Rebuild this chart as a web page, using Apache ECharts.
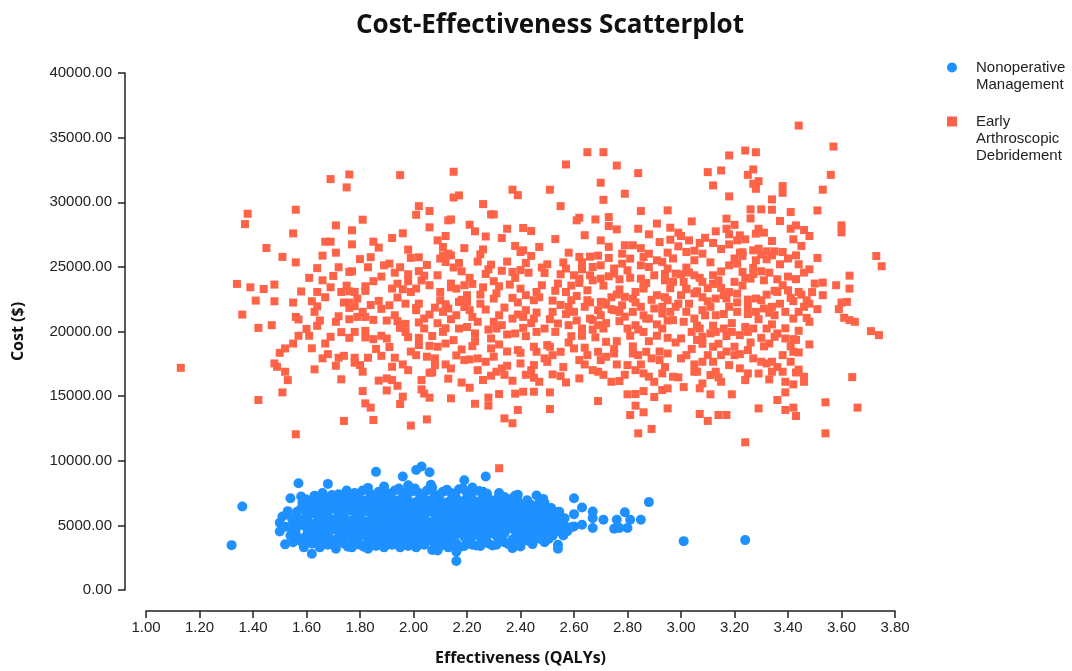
<!DOCTYPE html>
<html>
<head>
<meta charset="utf-8">
<title>Cost-Effectiveness Scatterplot</title>
<script src="https://cdn.jsdelivr.net/npm/echarts@6/dist/echarts.min.js"></script>
<style>
  html, body { margin: 0; padding: 0; background: #fff; }
  #chart { width: 1072px; height: 671px; }
</style>
</head>
<body>
<div id="chart"></div>
<script>
// series names
var seriesNames = ['Nonoperative Management', 'Early Arthroscopic Debridement'];
// leading blank lines keep the icon level with the first line of text
var legendLabels = ['\nNonoperative\nManagement', '\n\nEarly\nArthroscopic\nDebridement'];

// axis ticks
var xTicks = { min: 1.0, max: 3.8, step: 0.2 };
var yTicks = { min: 0, max: 40000, step: 5000 };

// [effectiveness (QALYs), cost ($)] - nonoperative management
var nonoperative = [
  [1.32,3470],[1.36,6460],
  [1.50,4530],[1.50,5200],[1.51,5690],[1.52,4900],[1.52,3530],
  [1.54,7100],[1.54,4200],[1.53,6100],[1.55,5400],[1.55,3700],
  [1.57,8260],[1.58,7240],[1.56,4700],[1.57,3900],[1.57,5500],[1.58,6300],
  [1.59,3300],[1.60,4200],[1.59,5000],[1.60,5800],[1.60,6600],[1.60,7000],
  [1.62,2800],[1.62,3600],[1.63,4400],[1.62,5100],[1.63,5900],[1.62,6500],[1.63,7300],
  [1.65,3300],[1.65,4000],[1.66,4700],[1.65,5400],[1.66,6100],[1.65,6800],[1.66,7500],
  [1.68,3500],[1.68,4300],[1.69,5000],[1.68,5700],[1.69,6400],[1.68,7100],[1.68,8210],
  [1.71,3200],[1.71,3900],[1.72,4600],[1.71,5300],[1.72,6000],[1.71,6700],[1.72,7400],
  [1.74,3600],[1.74,4300],[1.75,5000],[1.74,5700],[1.75,6400],[1.74,7100],[1.75,7700],
  [1.77,3300],[1.77,4000],[1.78,4700],[1.77,5400],[1.78,6100],[1.77,6800],[1.78,7500],
  [1.80,3500],[1.80,4200],[1.81,4900],[1.80,5600],[1.81,6300],[1.80,7000],[1.81,7700],
  [1.83,3200],[1.83,3900],[1.84,4600],[1.83,5300],[1.84,6000],[1.83,6700],[1.84,7400],[1.83,7900],
  [1.86,3400],[1.86,4100],[1.87,4800],[1.86,5500],[1.87,6200],[1.86,6900],[1.87,7600],[1.86,9140],
  [1.89,3300],[1.89,4000],[1.90,4700],[1.89,5400],[1.90,6100],[1.89,6800],[1.90,7500],[1.89,8000],
  [1.92,3500],[1.92,4200],[1.93,4900],[1.92,5600],[1.93,6300],[1.92,7000],[1.93,7700],
  [1.95,3300],[1.95,4000],[1.96,4700],[1.95,5400],[1.96,6100],[1.95,6800],[1.96,7500],[1.96,8780],
  [1.98,3400],[1.98,4100],[1.99,4800],[1.98,5500],[1.99,6200],[1.98,6900],[1.99,7600],[1.98,8100],
  [2.01,3300],[2.01,4000],[2.02,4700],[2.01,5400],[2.02,6100],[2.01,6800],[2.02,7500],[2.01,9290],[2.03,9550],
  [2.04,3500],[2.04,4200],[2.05,4900],[2.04,5600],[2.05,6300],[2.04,7000],[2.05,7700],[2.06,9110],
  [2.07,3100],[2.07,3800],[2.08,4500],[2.07,5200],[2.08,5900],[2.07,6600],[2.08,7300],[2.07,7900],[2.09,3060],
  [2.10,3400],[2.10,4100],[2.11,4800],[2.10,5500],[2.11,6200],[2.10,6900],[2.11,7600],
  [2.13,3300],[2.13,4000],[2.14,4700],[2.13,5400],[2.14,6100],[2.13,6800],[2.14,7500],
  [2.16,2240],[2.16,2970],[2.16,3600],[2.16,4300],[2.17,5000],[2.16,5700],[2.17,6400],[2.16,7100],[2.17,7800],
  [2.19,3400],[2.19,4100],[2.20,4800],[2.19,5500],[2.20,6200],[2.19,6900],[2.20,7500],[2.19,8490],
  [2.22,3500],[2.22,4200],[2.23,4900],[2.22,5600],[2.23,6300],[2.22,7000],[2.22,7930],
  [2.25,3400],[2.25,4100],[2.26,4800],[2.25,5500],[2.26,6200],[2.25,6900],[2.26,7600],[2.27,8780],
  [2.28,3600],[2.28,4300],[2.29,5000],[2.28,5700],[2.29,6400],[2.28,7100],
  [2.31,3500],[2.31,4200],[2.32,4900],[2.31,5600],[2.32,6300],[2.31,7000],[2.32,7500],
  [2.34,3700],[2.34,4400],[2.35,5100],[2.34,5800],[2.35,6500],[2.34,7200],
  [2.37,3240],[2.37,3900],[2.38,4600],[2.37,5300],[2.38,6000],[2.37,6700],[2.38,7300],
  [2.40,3370],[2.40,4200],[2.41,4900],[2.40,5600],[2.41,6300],[2.39,6850],[2.39,7360],
  [2.43,3800],[2.43,4500],[2.44,5200],[2.43,5900],[2.44,6600],
  [2.46,4000],[2.46,4700],[2.47,5400],[2.46,6100],[2.46,7310],[2.47,6700],
  [2.49,3700],[2.49,4400],[2.50,5100],[2.49,5800],[2.49,6720],
  [2.52,4200],[2.52,4900],[2.52,6120],[2.53,5500],
  [2.54,3190],[2.54,3500],[2.55,4500],[2.54,5560],[2.56,5250],[2.56,4220],
  [2.58,4800],[2.60,7100],[2.60,5870],[2.60,4920],[2.63,6380],[2.63,5050],
  [2.67,6070],[2.67,5560],[2.67,4790],[2.71,5430],[2.75,4740],[2.76,5430],
  [2.79,6020],[2.80,4790],[2.81,5430],[2.85,5430],[2.88,6800],[3.01,3780],[3.24,3860],
  [2.59,4860],[2.77,4790],
  // dense core of the cluster
  [1.535,4850],[1.545,5550],[1.565,4150],[1.565,6050],[1.575,5050],[1.585,3650],[1.585,6750],
  [1.605,4550],[1.605,5350],[1.615,6150],[1.615,3950],[1.635,4750],[1.635,6850],[1.645,5550],[1.645,3450],[1.645,6250],
  [1.665,4350],[1.675,5150],[1.675,3850],[1.675,5950],[1.675,6750],[1.695,4650],[1.695,7350],[1.705,3550],[1.705,5450],[1.705,6250],
  [1.725,4250],[1.725,7050],[1.735,5050],[1.735,3850],[1.735,5850],[1.735,6650],[1.755,4550],[1.755,3350],[1.765,5350],[1.765,6150],[1.765,7250],
  [1.785,4350],[1.785,3650],[1.795,5050],[1.795,5850],[1.795,6650],[1.795,7350],[1.815,4550],[1.815,3350],[1.825,5250],[1.825,6050],[1.825,6950],
  [1.845,4250],[1.845,3550],[1.855,5050],[1.855,5750],[1.855,6550],[1.855,7350],[1.875,4450],[1.875,3750],[1.885,5150],[1.885,5950],[1.885,6650],[1.885,7250],
  [1.905,4250],[1.905,3550],[1.915,5050],[1.915,5850],[1.915,6550],[1.915,7450],[1.935,4450],[1.935,3850],[1.945,5150],[1.945,6050],[1.945,6950],[1.945,7850],
  [1.965,4350],[1.965,3650],[1.975,5050],[1.975,5850],[1.975,6550],[1.975,7350],[1.995,4450],[1.995,3750],[2.005,5150],[2.005,5950],[2.005,6650],[2.005,7850],
  [2.025,4350],[2.025,3550],[2.035,5050],[2.035,5850],[2.035,6650],[2.035,7250],[2.055,4450],[2.055,3850],[2.065,5250],[2.065,6050],[2.065,6950],[2.065,8150],
  [2.085,4150],[2.085,3450],[2.095,4950],[2.095,5750],[2.095,6450],[2.095,7350],[2.115,4350],[2.115,3750],[2.125,5150],[2.125,5950],[2.125,6650],[2.125,7750],
  [2.145,4350],[2.145,3550],[2.155,5050],[2.155,5850],[2.155,6650],[2.155,7350],[2.175,4450],[2.175,3350],[2.185,5250],[2.185,6050],[2.185,6750],[2.185,7850],
  [2.205,4350],[2.205,3750],[2.215,5150],[2.215,5850],[2.215,6550],[2.215,7350],[2.235,4450],[2.235,3450],[2.245,5250],[2.245,6050],[2.245,6750],[2.245,7650],
  [2.265,4350],[2.265,3750],[2.275,5150],[2.275,5850],[2.275,6650],[2.275,7450],[2.295,4550],[2.295,3450],[2.305,5250],[2.305,6050],[2.305,6750],
  [2.325,4450],[2.325,3750],[2.335,5250],[2.335,6050],[2.335,6850],[2.355,4750],[2.355,3550],[2.365,5550],[2.365,6250],[2.365,7050],
  [2.385,4350],[2.385,3650],[2.395,5050],[2.395,5850],[2.395,6550],[2.415,4550],[2.415,3850],[2.425,5350],[2.425,6150],[2.425,6950],
  [2.445,4250],[2.445,3550],[2.455,5050],[2.455,5750],[2.455,6450],[2.475,4450],[2.475,3950],[2.485,5150],[2.485,6050],[2.485,7050],
  [2.505,4650],[2.505,3950],[2.515,5450],[2.515,6350],[2.535,4550],[2.535,5150],[2.545,6050],[2.555,4850],[2.565,5550],[2.575,4550]
];

// [effectiveness (QALYs), cost ($)] - early arthroscopic debridement
var debridement = [
  [1.13,17190],
  [1.69,31790],[1.76,32150],[1.75,31150],[1.95,32100],[2.15,32360],[2.37,30970],[2.39,30550],
  [1.38,29110],[1.37,28310],[1.56,29420],[1.81,28650],[2.02,29700],[2.06,29320],[2.01,29030],
  [2.15,30370],[2.17,30530],[2.26,29860],[2.29,29060],[2.30,29060],
  [1.71,28210],[1.77,27830],[2.06,28060],[1.55,27590],[1.67,26950],[1.69,26950],[1.77,26740],
  [1.92,27230],[2.12,27390],[2.14,28670],[2.13,28600],[2.21,28260],[2.23,27750],[2.33,27230],[2.41,28010],
  [1.45,26460],[1.87,26490],[1.98,26330],[2.11,26540],[2.11,25890],[2.13,26020],[2.14,25890],[2.12,25380],[2.10,25640],
  [2.25,25970],[2.38,26620],[2.40,26150],[2.41,26280],
  [1.51,25770],[1.56,25350],[1.66,25870],[1.72,24970],[1.76,24610],[1.77,24660],[1.83,24970],[1.89,25120],
  [1.91,25250],[1.95,24970],[2.02,25740],[1.98,24430],[2.02,24670],[2.04,24320],[2.17,25300],[2.18,24660],
  [2.24,25410],[2.29,25170],[2.28,24810],[2.35,25410],[2.37,24610],[2.42,25300],
  [1.34,23680],[1.39,23420],[1.44,23290],[1.48,23630],[1.66,23960],[1.69,23420],[1.82,23500],[1.85,23890],
  [1.92,23320],[1.98,23890],[2.01,23320],[2.06,23580],[2.14,23710],[2.16,23320],[2.19,23580],[2.22,23680],
  [2.26,23420],[2.30,23890],[2.32,23500],[2.36,23630],[2.40,23320],
  [1.41,22390],[1.48,22340],[1.55,22240],[1.62,22340],[1.64,23060],[1.73,23060],[1.76,23110],[1.78,23060],
  [1.82,23140],[1.96,23270],[1.99,23060],[2.10,23060],[2.14,23420],[2.20,22810],[2.25,22860],[2.30,22550],
  [2.37,22600],[2.42,22810],
  [1.36,21310],[1.42,20280],[1.47,20490],[1.56,21130],[1.57,20930],[1.63,21520],[1.65,20850],[1.64,20440],
  [1.71,20750],[1.72,21180],[1.74,22240],[1.76,22240],[1.78,21960],[1.76,21830],[1.76,20950],[1.79,21130],
  [1.81,21520],[1.82,21130],[1.85,20900],[1.87,22370],[1.88,21750],[1.91,22030],[1.94,22630],[1.93,21260],
  [1.94,20800],[1.95,20490],[1.97,20590],[2.01,21830],[2.02,22160],[2.01,21650],[2.02,20700],[2.04,21000],
  [2.06,21310],[2.10,22420],[2.12,22110],[2.13,21780],[2.11,21520],[2.09,20640],[2.14,20950],[2.16,21260],
  [2.17,22290],[2.19,21900],[2.20,22290],[2.21,21650],[2.22,21130],[2.24,20750],[2.27,21700],[2.30,20750],
  [2.31,20230],[2.32,21260],[2.33,20490],[2.37,21000],[2.39,21310],[2.41,21130],[2.41,20280],
  [1.50,18350],[1.52,18690],[1.55,19070],[1.57,19670],[1.61,19670],[1.67,19070],[1.69,19590],[1.76,19510],
  [1.78,19970],[1.82,20050],[1.82,19540],[1.85,19410],[1.88,19670],[1.90,19460],[1.95,20280],[1.97,19970],
  [1.98,19560],[2.02,19510],[2.02,18950],[2.04,20230],[2.06,18890],[2.09,18820],[2.11,19970],[2.12,19070],
  [2.15,19330],[2.17,20230],[2.18,18610],[2.22,18870],[2.29,19460],[2.29,18690],[2.32,19000],[2.35,19770],
  [2.39,18560],[2.40,18350],[2.42,19640],
  [1.48,17530],[1.49,17270],[1.52,16890],[1.53,16240],[1.51,15290],[1.42,14700],[1.63,17070],[1.66,17920],
  [1.71,17350],[1.72,17970],[1.74,18120],[1.78,17970],[1.78,17580],[1.80,17400],[1.81,16890],[1.83,17970],
  [1.88,18120],[1.92,17270],[1.93,17970],[1.96,17450],[1.98,17010],[2.01,18170],[2.03,16240],[2.06,16810],
  [2.07,16830],[2.08,17400],[2.08,17920],[2.12,17450],[2.14,17140],[2.19,17790],[2.21,17840],[2.24,17920],
  [2.24,17010],[2.27,17660],[2.29,16580],[2.31,16890],[2.33,17140],[2.35,17350],[2.37,16190],[2.40,17530],
  [1.81,15390],[1.90,15440],[1.94,15800],[1.92,16240],[1.90,16370],[1.96,14960],[1.95,14390],[2.03,15520],
  [2.06,14880],[2.04,15200],[2.14,14830],[2.21,15650],[2.23,14410],[2.28,14880],[2.28,14260],[2.32,15160],
  [2.38,15190],[2.41,15340],[2.39,13930],
  [1.82,14440],[1.84,14110],[1.74,13080],[1.85,13150],[1.99,12720],[2.05,13200],[2.34,13280],[2.37,12900],
  [1.56,12050],[2.32,9420],
  [3.44,35930],[3.57,34310],[2.65,33870],[2.71,33870],[3.24,34000],[3.28,33870],[3.18,33620],[2.57,32920],
  [2.76,32840],[2.84,32250],[3.10,32330],[3.15,32460],[3.27,32540],[3.25,32120],[3.56,32120],
  [2.51,30970],[2.70,31510],[2.79,30660],[3.12,31300],[3.27,31430],[3.29,31630],[3.28,31040],[3.38,31250],
  [3.38,30730],[3.53,30970],
  [2.71,30190],[2.55,29700],[3.18,30450],[3.34,30220],[2.85,29320],[2.95,29370],[3.26,29450],[3.30,29450],
  [3.34,29420],[3.41,29240],[3.51,29370],
  [2.61,28600],[2.62,28800],[2.68,28670],[2.73,28850],[2.73,28160],[2.76,27900],[3.04,28520],[3.17,28730],
  [3.29,27950],[3.28,27570],[3.43,28210],[3.41,27950],[3.60,28210],[3.60,27670],
  [2.44,27770],[2.88,27520],[2.96,28030],[3.00,27390],[3.03,27050],[2.96,27100],[3.13,27750],[3.17,27950],
  [3.18,27520],[3.22,27440],[3.21,27050],[3.24,27130],[3.34,27000],[3.42,27130],[3.48,27390],
  [2.47,26540],[2.79,26670],[2.82,26670],[2.92,26920],[2.99,26590],[3.07,26850],[3.15,26380],[3.18,26740],
  [3.23,26130],[3.27,26280],[3.29,26410],[3.32,26200],[3.35,26200],[3.45,26620],
  [2.58,26100],[2.62,25770],[2.66,25790],[2.69,25870],[2.73,25690],[2.78,26020],[2.81,25640],[2.86,25770],
  [2.88,26020],[2.91,25510],[2.95,26100],[3.05,26250],[3.08,26020],[3.05,25510],[3.22,26100],[3.28,25510],
  [3.32,25590],[3.34,25890],[3.43,25890],[3.51,25690],[3.73,25840],[3.75,25050],
  [2.50,25200],[2.49,24530],[2.55,24430],[2.57,24870],[2.60,24350],[2.63,24810],[2.67,24990],[2.70,25120],
  [2.75,24870],[2.80,24740],[2.85,25120],[2.88,24990],[2.93,25380],[2.95,24870],[2.98,24480],[3.00,24430],
  [3.03,24560],[3.05,24350],[3.12,24350],[3.18,25120],[3.21,25250],[3.23,24610],[3.27,24920],[3.30,24660],
  [3.37,25200],[3.44,25200],[3.46,24560],[3.48,24810],[3.63,24320],
  [2.48,23580],[2.54,23710],[2.62,24090],[2.62,23760],[2.67,23960],[2.70,24090],[2.73,24270],[2.75,24480],
  [2.77,24040],[2.85,24090],[2.86,23630],[2.94,23960],[2.97,23840],[3.01,23840],[3.02,23320],[3.08,23840],
  [3.12,23680],[3.14,23960],[3.15,23370],[3.20,23840],[3.26,24090],[3.31,23960],[3.36,24040],[3.38,23580],
  [3.40,23190],[3.44,23060],[3.50,23710],[3.53,23780],[3.53,22810],[3.58,23580],[3.63,23320],
  [2.52,22390],[2.57,23060],[2.59,22420],[2.65,23190],[2.65,22420],[2.70,22290],[2.71,22240],[2.76,22860],
  [2.79,22680],[2.82,22550],[2.83,23060],[2.86,23320],[2.91,22810],[2.95,22420],[3.00,22810],[3.02,23270],
  [3.06,23110],[3.08,22650],[3.10,22340],[3.16,22810],[3.17,22550],[3.21,22930],[3.25,22470],[3.30,22420],
  [3.36,23060],[3.41,22600],[3.47,22420],[3.60,22240],[3.59,21730],[3.62,22290],
  [2.46,21470],[2.52,21520],[2.58,21910],[2.60,21520],[2.64,21910],[2.66,21000],[2.70,21260],[2.72,22080],
  [2.74,21730],[2.77,21520],[2.78,22030],[2.82,21520],[2.85,21910],[2.87,21000],[2.90,21780],[2.93,21910],
  [2.93,21390],[2.96,21520],[2.98,21910],[3.02,21520],[3.05,21000],[3.08,21650],[3.11,21910],[3.13,21260],
  [3.18,21910],[3.21,21520],[3.25,21910],[3.28,21520],[3.31,21780],[3.34,21910],[3.35,21260],[3.39,21520],
  [3.42,21000],[3.44,21520],[3.46,21910],[3.51,21730],[3.48,20750],[3.61,21060],[3.63,20880],[3.65,20750],
  [3.71,20030],[3.74,19720],
  [2.49,20230],[2.50,18950],[2.53,19970],[2.54,20620],[2.58,20490],[2.59,19640],[2.63,20230],[2.63,19670],
  [2.67,20880],[2.69,20490],[2.71,20230],[2.72,19200],[2.75,18640],[2.77,20800],[2.80,20230],[2.81,19670],
  [2.83,20490],[2.86,19970],[2.88,21000],[2.91,19670],[2.93,20230],[2.95,19510],[2.97,20880],[3.00,19460],
  [3.04,19970],[3.07,20230],[3.08,19590],[3.11,19850],[3.12,18820],[3.13,19970],[3.16,20230],[3.19,19970],
  [3.20,18820],[3.22,19720],[3.25,19970],[3.27,20230],[3.30,19510],[3.32,20230],[3.33,19070],[3.35,19590],
  [3.39,19460],[3.42,19410],[3.48,19000],
  [2.45,18820],[2.51,18820],[2.52,18170],[2.55,18430],[2.60,18690],[2.62,17790],[2.65,18170],[2.69,18430],
  [2.70,17790],[2.72,18040],[2.75,18300],[2.76,17450],[2.80,17400],[2.82,18300],[2.84,18170],[2.87,18430],
  [2.89,17920],[2.92,17790],[2.95,18300],[3.00,17920],[3.02,18170],[3.06,16890],[3.08,17660],[3.10,18170],
  [3.12,17660],[3.15,18170],[3.18,17400],[3.20,18170],[3.25,18560],[3.27,17920],[3.30,17660],[3.32,17530],
  [3.34,17660],[3.38,18170],[3.41,17660],[3.42,18430],[3.44,18380],[3.64,16470],
  [2.45,17400],[2.45,16420],[2.52,16680],[2.55,16550],[2.57,16060],[2.62,16370],[2.67,17010],[2.69,16890],
  [2.74,16110],[2.77,16170],[2.83,17010],[2.86,16760],[2.88,16500],[2.90,16110],[2.93,16760],[2.97,16500],
  [3.01,15700],[3.05,16890],[3.08,15980],[3.11,16630],[3.13,16890],[3.15,16110],[3.24,16240],[3.25,16760],
  [3.34,16890],[3.33,16290],[3.38,16890],[3.39,16110],[3.42,15910],[3.43,16830],[3.46,16110],[3.46,16500],
  [2.45,15340],[2.51,15290],[2.69,14620],[2.80,15140],[2.83,15160],[2.86,15390],[2.90,14930],[2.93,15470],
  [2.95,15600],[3.07,15600],[3.11,15140],[3.19,15140],[3.39,15290],[3.36,14700],
  [2.51,14000],[2.81,13540],[2.83,14260],[2.86,13750],[2.95,14050],[3.07,13620],[3.10,13080],[3.14,13540],
  [3.17,13540],[3.29,14050],[3.39,13930],[3.42,14110],[3.43,13460],[3.54,14520],[3.66,14110],
  [2.84,12120],[2.89,12460],[3.24,11430],[3.54,12120],
  [2.46,23060],[2.45,22420],[2.45,21000],[2.46,19970],[2.49,17920],[2.46,18430],[2.44,17010],[2.47,16110],
  // crowded middle of the cloud
  [1.61,24150],[1.64,21950],[1.67,22650],[1.70,24300],[1.73,19950],[1.75,23550],[1.79,22550],[1.80,25600],
  [1.84,22050],[1.86,18650],[1.88,24250],[1.90,20850],[1.93,24550],[1.97,22150],[1.99,18450],[1.68,18250],
  [1.71,26100],[1.85,26950],[1.96,27600],[1.64,24900],[1.58,23100],[1.60,20200],[1.87,16200],[1.91,18800],
  [1.99,25700],[1.62,18700],[1.73,16300],[1.84,25750],[1.94,23700],
  [2.03,23950],[2.05,25150],[2.08,21850],[2.09,24350],[2.12,20250],[2.15,24950],[2.18,22450],[2.20,20350],
  [2.21,24150],[2.23,19850],[2.25,22150],[2.27,24450],[2.28,20150],[2.31,22950],[2.33,24700],[2.34,21850],
  [2.35,18450],[2.38,24150],[2.39,22250],[2.42,21650],[2.43,24550],[2.44,20650],[2.05,18050],[2.13,16350],
  [2.18,16050],[2.26,16250],[2.34,16650],[2.42,16650],[2.09,27050],[2.19,26450],[2.27,27350],[2.35,27950],
  [2.07,19650],[2.23,19250],[2.30,18050],[2.38,19850],[2.16,18150],[2.44,25850],[2.40,24750],[2.26,26350],
  [2.47,22650],[2.48,24950],[2.51,20950],[2.53,23150],[2.55,22050],[2.56,25350],[2.58,19150],[2.59,23550],
  [2.61,20850],[2.61,22750],[2.63,25350],[2.64,18750],[2.66,22250],[2.66,24350],[2.68,19550],[2.69,21650],
  [2.71,23550],[2.72,20650],[2.73,26550],[2.74,22650],[2.76,19250],[2.77,23250],[2.78,25250],[2.79,21150],
  [2.81,24150],[2.82,18850],[2.83,22250],[2.84,20150],[2.85,26450],[2.87,23750],[2.88,19250],[2.89,22450],
  [2.90,24350],[2.91,20550],[2.92,18450],[2.94,22650],[2.95,20850],[2.96,23350],[2.97,25650],[2.98,19150],
  [2.99,22150],[2.50,17650],[2.56,17250],[2.64,17450],[2.71,16650],[2.79,16650],[2.85,17450],[2.94,17250],
  [2.99,16450],[2.53,27150],[2.64,27450],[2.70,27050],[2.84,27950],[2.91,28350],[2.99,27650],[2.57,21350],
  [2.67,20150],[2.75,21650],[2.86,21250],[2.94,24450],
  [3.01,20750],[3.02,24950],[3.03,22150],[3.04,18650],[3.05,22950],[3.06,20450],[3.07,24150],[3.08,19050],
  [3.09,21250],[3.10,23350],[3.11,25350],[3.12,20450],[3.13,22550],[3.14,19050],[3.15,24650],[3.16,21350],
  [3.17,18450],[3.18,23050],[3.19,20650],[3.20,25650],[3.21,22250],[3.22,18250],[3.23,23550],[3.24,20350],
  [3.25,21350],[3.26,19150],[3.27,24450],[3.28,22550],[3.29,20950],[3.30,25950],[3.31,18850],[3.32,22850],
  [3.33,24550],[3.34,20550],[3.35,23150],[3.36,19850],[3.37,22150],[3.38,26150],[3.39,20250],[3.40,24250],
  [3.41,18850],[3.42,22350],[3.43,24050],[3.44,20050],[3.45,22850],[3.47,21050],[3.49,23050],[3.05,17450],
  [3.14,16450],[3.22,17150],[3.29,16750],[3.36,17250],[3.44,17050],[3.09,27250],[3.20,28250],[3.26,28750],
  [3.31,27650],[3.37,28550],[3.46,27850],[3.02,26150],[3.12,26850],[3.23,25850],[3.40,25650],[3.48,22150],
  [3.33,21450],[3.17,19650],[3.06,19350],[3.24,24150],[3.43,19350]
];

function drawScatter() {
    var dom = document.getElementById("chart");
    var myChart = echarts.init(dom);
    var option = null;

    var labelFont = 'Liberation Sans, Arial, sans-serif';
    var boldFont = 'Open Sans, DejaVu Sans, sans-serif';

    option = {
        animation: false,
        backgroundColor: '#ffffff',
        title: {
            text: 'Cost-Effectiveness Scatterplot',
            left: 545,
            top: 8,
            textAlign: 'center',
            textStyle: { fontFamily: boldFont, fontWeight: 'bold', fontSize: 26, color: '#111' }
        },
        legend: {
            orient: 'vertical',
            left: 947,
            top: 42,
            padding: 0,
            itemGap: -14,
            itemWidth: 10,
            itemHeight: 10,
            selectedMode: false,
            formatter: function (name) {
                return legendLabels[seriesNames.indexOf(name)];
            },
            textStyle: { fontFamily: labelFont, fontSize: 15, lineHeight: 17, color: '#222', padding: [0, 0, 0, 14] },
            data: [
                { name: seriesNames[0], icon: 'circle' },
                { name: seriesNames[1], icon: 'rect' }
            ]
        },
        grid: { left: 146, right: 177, top: 73, bottom: 81 },
        xAxis: {
            type: 'value',
            min: xTicks.min,
            max: xTicks.max,
            interval: xTicks.step,
            offset: 21,
            name: 'Effectiveness (QALYs)',
            nameLocation: 'middle',
            nameGap: 39,
            nameTextStyle: { fontFamily: boldFont, fontWeight: 'bold', fontSize: 16, color: '#111' },
            axisLine: { show: true, onZero: false, lineStyle: { color: '#222', width: 1.5 } },
            axisTick: { show: true, length: 7, lineStyle: { color: '#222', width: 1.5 } },
            axisLabel: {
                margin: 9,
                fontFamily: labelFont, fontSize: 15, color: '#222',
                formatter: function (v) { return v.toFixed(2); }
            },
            splitLine: { show: false }
        },
        yAxis: {
            type: 'value',
            min: yTicks.min,
            max: yTicks.max,
            interval: yTicks.step,
            offset: 21,
            name: 'Cost ($)',
            nameLocation: 'middle',
            nameRotate: 90,
            nameGap: 99,
            nameTextStyle: { fontFamily: boldFont, fontWeight: 'bold', fontSize: 16, color: '#111' },
            axisLine: { show: true, onZero: false, lineStyle: { color: '#222', width: 1.5 } },
            axisTick: { show: true, length: 7, lineStyle: { color: '#222', width: 1.5 } },
            axisLabel: {
                margin: 13,
                fontFamily: labelFont, fontSize: 15, color: '#222',
                formatter: function (v) { return v.toFixed(2); }
            },
            splitLine: { show: false }
        },
        series: [
            {
                name: seriesNames[0],
                type: 'scatter',
                symbol: 'circle',
                symbolSize: 10,
                itemStyle: { color: '#1E90FF', opacity: 1 },
                data: nonoperative
            },
            {
                name: seriesNames[1],
                type: 'scatter',
                symbol: 'rect',
                symbolSize: 8,
                itemStyle: { color: '#FF6347', opacity: 1 },
                data: debridement
            }
        ]
    };

    if (option && typeof option === "object") {
        myChart.setOption(option, true);
    }
}

drawScatter();
</script>
</body>
</html>
